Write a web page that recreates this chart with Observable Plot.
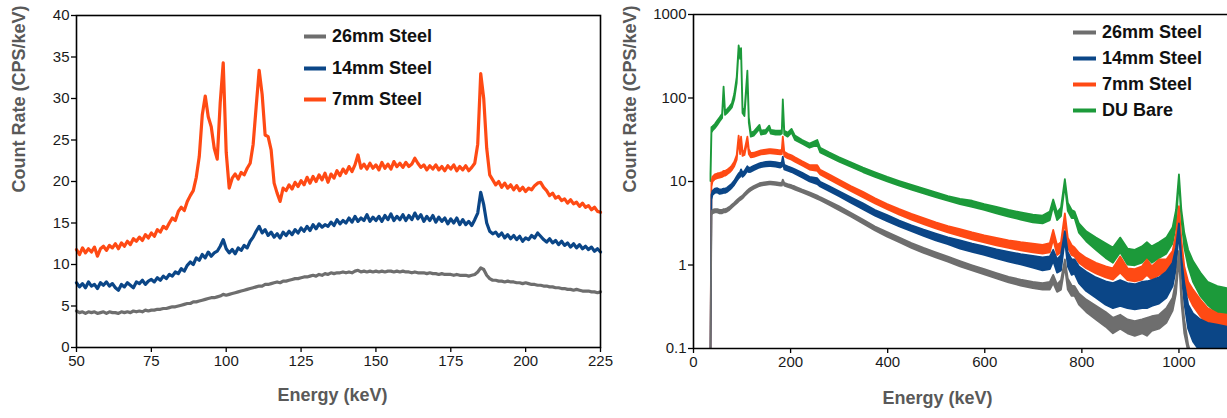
<!DOCTYPE html>
<html><head><meta charset="utf-8">
<script src="https://cdn.jsdelivr.net/npm/d3@7"></script>
<script src="https://cdn.jsdelivr.net/npm/@observablehq/plot@0.6"></script>
<style>
body{margin:0;background:#fff;font-family:"Liberation Sans",Arial,sans-serif;}
#wrap{display:flex;width:1227px;height:418px;position:relative;overflow:hidden;background:#fff}
.panel{position:relative;flex:none}
.lg{position:absolute;display:flex;align-items:center;font-weight:bold;color:#111;font-size:18px;white-space:nowrap;transform:translateY(-50%)}
.lg .sw{display:inline-block;height:4px;margin-right:6px}
</style></head><body>
<div id="wrap"><div id="left" class="panel"></div><div id="right" class="panel"></div></div>
<script>
// ---------- Left panel (linear) ----------
const energyL = d3.range(50, 226); // 1 keV channels, 50..225
const steel7L = [
11.8,11.2,12.0,11.4,11.9,11.5,12.1,11.0,11.9,12.2,
11.7,12.3,12.0,12.5,11.9,12.6,12.2,12.8,12.4,13.1,
12.8,13.3,12.9,13.6,13.2,13.8,13.4,14.2,13.9,14.6,
14.3,15.0,15.6,15.3,16.4,16.9,16.5,17.6,18.3,18.9,
20.5,23.0,28.0,30.3,27.8,26.6,24.0,22.7,29.5,34.3,
23.5,19.2,20.4,20.9,20.3,21.1,20.8,21.6,22.2,24.5,
29.0,33.4,30.5,25.6,25.4,23.8,19.8,18.6,17.6,19.2,
18.9,19.6,19.1,19.9,19.4,20.1,19.6,20.5,19.8,20.6,
20.0,20.8,20.2,21.0,19.9,20.9,20.4,21.3,20.7,21.5,
21.0,21.8,21.2,22.0,23.2,21.6,22.1,21.5,22.2,21.6,
22.0,21.4,22.3,21.6,22.1,21.5,22.4,21.8,22.2,21.7,
22.3,21.8,22.1,22.8,22.2,21.7,22.0,21.4,21.9,21.5,
22.0,21.4,21.8,21.3,21.9,21.5,22.0,21.3,21.8,21.4,
21.9,21.3,21.7,22.2,24.5,33.0,30.0,24.0,20.8,20.2,
19.6,20.0,19.3,19.8,19.2,19.6,19.0,19.5,18.9,19.3,
18.8,19.2,19.0,19.5,19.8,19.9,19.3,18.9,18.3,18.6,
18.0,18.2,17.7,17.9,17.4,17.8,17.3,17.5,17.0,17.4,
16.9,17.1,16.6,16.9,16.4,16.3];
const steel14L = [
7.8,7.3,7.7,7.2,7.9,7.4,7.6,7.1,7.8,7.5,
7.9,7.4,7.7,7.2,6.9,7.6,7.3,7.8,7.5,7.2,
7.9,7.7,8.1,7.6,8.0,8.2,7.9,8.4,8.1,8.6,
8.3,8.8,8.6,9.1,8.9,9.5,9.2,9.9,10.3,10.0,
10.8,10.5,11.2,10.8,11.5,11.0,11.4,11.6,12.2,13.0,
11.9,11.4,11.8,11.3,12.0,11.7,12.3,12.0,12.8,13.3,
14.0,14.6,13.8,14.2,13.5,13.9,13.3,13.7,13.2,13.9,
13.5,14.0,13.6,14.2,13.8,14.4,14.0,14.6,14.1,14.8,
14.3,14.9,14.5,14.8,14.6,15.1,14.7,15.4,14.9,15.3,
15.0,15.6,15.1,15.8,15.2,15.6,15.3,16.0,15.2,15.7,
15.3,15.8,15.2,15.9,15.4,16.1,15.3,15.8,15.4,16.0,
15.3,15.9,15.4,16.2,15.5,16.0,15.2,15.8,15.3,15.9,
15.1,15.7,15.2,15.6,14.9,15.5,15.0,15.6,14.8,15.4,
14.8,15.2,14.7,15.4,16.2,18.7,17.2,15.0,14.0,13.7,
13.9,13.4,13.8,13.2,13.6,13.1,13.5,13.0,13.4,12.8,
13.2,13.0,13.5,13.2,13.8,13.4,13.0,12.7,13.1,12.6,
12.9,12.4,12.8,12.3,12.6,12.1,12.5,12.0,12.4,11.9,
12.2,11.8,12.1,11.6,11.9,11.5];
const steel26L = [
4.4,4.2,4.3,4.1,4.3,4.2,4.3,4.1,4.2,4.3,
4.1,4.3,4.2,4.2,4.1,4.3,4.2,4.3,4.2,4.4,
4.3,4.4,4.3,4.5,4.4,4.5,4.5,4.6,4.6,4.7,
4.7,4.8,4.9,4.9,5.0,5.1,5.2,5.3,5.3,5.5,
5.5,5.6,5.7,5.8,5.9,6.0,6.0,6.1,6.2,6.4,
6.3,6.4,6.5,6.6,6.7,6.8,6.9,7.0,7.1,7.2,
7.3,7.4,7.4,7.6,7.6,7.7,7.8,7.9,7.8,8.0,
8.0,8.1,8.2,8.3,8.3,8.4,8.5,8.5,8.6,8.7,
8.6,8.8,8.7,8.9,8.8,9.0,8.9,9.0,9.0,9.1,
9.0,9.1,9.0,9.2,9.3,9.1,9.2,9.1,9.2,9.1,
9.2,9.1,9.2,9.1,9.2,9.2,9.1,9.2,9.1,9.2,
9.1,9.1,9.0,9.1,9.0,9.0,9.0,8.9,9.0,8.9,
8.9,8.8,8.9,8.8,8.8,8.8,8.7,8.8,8.7,8.7,
8.7,8.6,8.7,8.8,9.1,9.6,9.4,8.7,8.3,8.1,
8.1,8.0,8.0,7.9,8.0,7.9,7.9,7.8,7.8,7.7,
7.8,7.7,7.6,7.6,7.5,7.5,7.4,7.4,7.3,7.3,
7.2,7.2,7.1,7.1,7.0,7.0,6.9,7.0,6.9,6.8,
6.8,6.8,6.7,6.7,6.6,6.7];
const xTicksL = [50, 75, 100, 125, 150, 175, 200, 225];
const yTicksL = [0, 5, 10, 15, 20, 25, 30, 35, 40];

// ---------- Right panel (log) : noise envelope lo/hi per energy ----------
const energyR = [36,38,40,45,50,55,60,63,66,70,75,80,85,90,94,97,99,102,106,112,
115,119,125,137,140,150,157,160,170,180,183,185,188,195,203,210,225,240,256,262,
280,300,325,350,375,400,425,450,475,500,525,550,575,600,625,650,675,700,720,735,
742,750,758,766,772,780,786,795,810,830,850,865,880,895,910,925,935,945,960,975,
988,995,1001,1006,1012,1020,1030,1045,1060,1080,1100];
const s26Lo = [0.08,3.9,4.1,4.2,4.2,4.1,4.1,4.2,4.2,4.3,4.5,4.8,5.1,5.4,5.7,5.9,6.0,6.2,6.6,7.1,
7.4,7.7,8.1,8.7,8.8,9.0,9.1,9.1,9.0,8.8,8.8,9.4,8.8,8.5,8.2,7.9,7.3,6.7,6.1,5.9,
5.2,4.5,3.75,3.1,2.55,2.15,1.85,1.58,1.38,1.22,1.08,0.95,0.85,0.76,0.68,0.61,0.56,0.52,0.5,0.5,
0.6,0.47,0.5,0.95,0.5,0.42,0.42,0.33,0.27,0.22,0.18,0.15,0.17,0.15,0.14,0.15,0.14,0.16,0.17,0.2,
0.28,0.45,1.2,0.35,0.15,0.09,0.06,0.05,0.05,0.05,0.05];
const s26Hi = [0.08,4.3,4.5,4.6,4.6,4.5,4.5,4.6,4.6,4.7,4.9,5.2,5.5,5.9,6.2,6.4,6.5,6.7,7.1,7.7,
8.0,8.3,8.7,9.4,9.5,9.7,9.8,9.8,9.7,9.5,9.6,10.4,9.5,9.2,8.9,8.6,7.9,7.3,6.7,6.4,
5.7,5.0,4.15,3.45,2.85,2.45,2.1,1.8,1.58,1.4,1.24,1.1,0.98,0.88,0.79,0.71,0.66,0.62,0.6,0.62,
0.75,0.58,0.65,1.15,0.68,0.56,0.55,0.45,0.38,0.32,0.27,0.23,0.25,0.22,0.21,0.22,0.23,0.24,0.25,0.3,
0.4,0.65,1.45,0.5,0.22,0.11,0.07,0.06,0.05,0.05,0.05];
const s14Lo = [0.08,6.0,6.8,7.2,7.3,7.0,7.1,7.2,7.2,7.4,7.8,8.3,9.0,10.0,10.8,11.2,12.0,11.2,11.8,13.2,
12.8,12.9,13.5,14.5,14.7,15.0,15.1,15.1,14.9,14.5,14.8,17.0,13.8,13.3,12.8,12.2,11.0,9.9,9.2,8.6,
7.6,6.6,5.5,4.6,3.85,3.3,2.85,2.5,2.2,1.95,1.75,1.55,1.42,1.3,1.18,1.08,1.0,0.92,0.85,0.88,
1.1,0.8,0.85,2.0,0.95,0.75,0.78,0.6,0.48,0.4,0.33,0.3,0.32,0.3,0.29,0.3,0.3,0.32,0.34,0.4,
0.55,0.9,2.6,0.8,0.35,0.17,0.12,0.09,0.08,0.08,0.08];
const s14Hi = [0.08,6.8,7.6,8.1,8.2,7.9,8.0,8.1,8.1,8.3,8.8,9.3,10.1,11.3,12.3,12.8,13.8,12.6,13.2,15.0,
14.4,14.6,15.2,16.3,16.5,16.9,17.0,17.0,16.8,16.4,16.8,19.5,15.6,15.0,14.4,13.8,12.5,11.2,10.8,9.8,
8.7,7.6,6.4,5.4,4.5,3.9,3.35,2.95,2.62,2.35,2.12,1.95,1.78,1.65,1.52,1.42,1.33,1.27,1.22,1.25,
1.5,1.15,1.3,2.5,1.4,1.15,1.15,0.95,0.82,0.7,0.63,0.6,0.65,0.6,0.58,0.62,0.63,0.65,0.7,0.82,
1.05,1.6,3.1,1.2,0.6,0.33,0.26,0.22,0.2,0.19,0.18];
const s7Lo = [0.08,8.5,9.8,10.5,10.8,11.0,11.2,11.5,11.6,12.0,12.6,13.5,15.0,18.0,31,21,31,20,20.5,30,
21,19.2,19.5,20.5,20.8,21.2,21.4,21.4,21.2,20.8,21,30,19.8,18.8,18,17,15.3,13.7,13.2,12.0,
10.5,9.1,7.6,6.4,5.4,4.6,3.95,3.45,3.05,2.7,2.42,2.2,2.0,1.84,1.7,1.58,1.48,1.4,1.35,1.4,
2.0,1.3,1.4,3.4,1.6,1.3,1.25,1.05,0.9,0.78,0.7,0.66,0.8,0.65,0.63,0.66,0.75,0.66,0.75,0.78,
1.0,1.6,4.3,1.5,0.65,0.42,0.32,0.24,0.19,0.17,0.16];
const s7Hi = [0.08,9.8,11.2,12.0,12.3,12.5,12.8,13.2,13.2,13.6,14.3,15.3,17.0,20.5,35,24,34,22.5,23,34,
24,21.5,21.8,23,23.3,23.7,24,24,23.8,23.3,23.8,34,22.3,21.2,20.3,19.2,17.2,15.5,15.5,13.6,
12.0,10.4,8.7,7.4,6.2,5.3,4.6,4.05,3.6,3.2,2.88,2.65,2.42,2.23,2.08,1.95,1.85,1.78,1.72,1.8,
2.6,1.7,1.85,4.1,2.1,1.7,1.6,1.38,1.2,1.05,0.95,0.9,1.25,0.9,0.88,0.95,1.15,0.95,1.15,1.15,
1.45,2.3,5.0,2.0,0.95,0.62,0.5,0.38,0.3,0.26,0.25];
const duLo = [10,38,40,43,47,52,57,120,62,65,70,76,95,150,380,290,350,65,60,185,
50,34,35,42,36,37,42,37,36,36,37,85,36,34,38,31,28,25,27,22,
19.5,17.2,14.8,12.8,11.2,9.9,8.8,7.9,7.1,6.4,5.8,5.3,4.9,4.5,4.1,3.75,3.45,3.2,3.1,3.4,
5.0,3.4,3.8,9.0,4.4,3.6,3.6,2.4,1.9,1.5,1.2,1.05,1.4,1.0,0.98,1.05,1.2,1.05,1.2,1.35,
1.8,3.0,10.5,3.5,1.6,0.95,0.62,0.42,0.33,0.26,0.24];
const duHi = [12,44,45,48,53,58,64,135,68,72,78,85,110,175,420,330,390,75,68,210,
58,38,39,47,40,41,46,41,40,40,41,95,40,38,42,35,31,28,31,25,
22,19.3,16.7,14.5,12.7,11.2,10.0,9.0,8.1,7.3,6.6,6.1,5.8,5.3,4.9,4.5,4.2,3.95,3.85,4.3,
6.0,4.2,4.8,10.5,5.5,4.5,4.3,3.1,2.5,2.1,1.8,1.6,2.1,1.55,1.5,1.65,1.85,1.65,1.85,2.1,
2.8,4.5,12,4.5,2.4,1.5,1.1,0.8,0.62,0.55,0.52];
const xTicksR = [0, 200, 400, 600, 800, 1000];
const yTicksR = [0.1, 1, 10, 100, 1000];

const seriesNames = ["26mm Steel", "14mm Steel", "7mm Steel", "DU Bare"];
const colors = ["#6e6e6e", "#0b4687", "#ff4a14", "#1c9a3a"];

const FONT = "'Liberation Sans', Arial, sans-serif";
const TITLE = "#595959";

// ---------- build left ----------
const rowsL = (vals) => energyL.map((e, i) => ({e, v: vals[i]}));
const lineOpts = (c) => ({x: "e", y: "v", stroke: c, strokeWidth: 3.2, strokeLinejoin: "round"});
const left = Plot.plot({
  width: 615, height: 418,
  marginLeft: 76, marginRight: 15, marginTop: 15, marginBottom: 71,
  style: {fontFamily: FONT, fontSize: "15px", color: "#1a1a1a", background: "#fff", overflow: "visible"},
  x: {domain: [50, 225]},
  y: {domain: [0, 40]},
  marks: [
    Plot.line(rowsL(steel26L), lineOpts(colors[0])),
    Plot.line(rowsL(steel14L), lineOpts(colors[1])),
    Plot.line(rowsL(steel7L), lineOpts(colors[2])),
    Plot.frame({stroke: "#000", strokeWidth: 1.6}),
    Plot.axisX({ticks: xTicksL, tickSize: 5, tickPadding: 3, label: null, stroke: "#000", strokeWidth: 1.3}),
    Plot.axisY({ticks: yTicksL, tickSize: 5, tickPadding: 2, label: null, stroke: "#000", strokeWidth: 1.3}),
    Plot.text(["Energy (keV)"], {frameAnchor: "bottom", dy: 53, dx: -6, text: d => d, fontSize: 18, fontWeight: "bold", fill: TITLE}),
    Plot.text(["Count Rate (CPS/keV)"], {frameAnchor: "left", dx: -57, dy: 11, rotate: -90, text: d => d, fontSize: 18, fontWeight: "bold", fill: TITLE})
  ]
});
document.getElementById("left").append(left);

// ---------- build right ----------
const rowsR = (lo, hi) => energyR.map((e, i) => ({e, lo: lo[i], hi: hi[i]}));
const areaOpts = (c) => ({x: "e", y1: "lo", y2: "hi", fill: c, stroke: c, strokeWidth: 1.8, strokeLinejoin: "round", clip: true});
const right = Plot.plot({
  width: 612, height: 418,
  marginLeft: 78, marginRight: 0, marginTop: 14, marginBottom: 70,
  style: {fontFamily: FONT, fontSize: "15px", color: "#1a1a1a", background: "#fff", overflow: "visible"},
  x: {domain: [0, 1100]},
  y: {type: "log", domain: [0.1, 1000]},
  marks: [
    Plot.areaY(rowsR(duLo, duHi), areaOpts(colors[3])),
    Plot.areaY(rowsR(s7Lo, s7Hi), areaOpts(colors[2])),
    Plot.areaY(rowsR(s14Lo, s14Hi), areaOpts(colors[1])),
    Plot.areaY(rowsR(s26Lo, s26Hi), areaOpts(colors[0])),
    Plot.ruleY([1000], {stroke: "#000", strokeWidth: 1.6}),
    Plot.ruleY([0.1], {stroke: "#000", strokeWidth: 1.6}),
    Plot.ruleX([0], {stroke: "#000", strokeWidth: 1.6}),
    Plot.axisX({ticks: xTicksR, tickFormat: d => String(d), tickSize: 5, tickPadding: 3, label: null, stroke: "#000", strokeWidth: 1.3}),
    Plot.axisY({ticks: yTicksR, tickFormat: d => String(d), tickSize: 5, tickPadding: 2, label: null, stroke: "#000", strokeWidth: 1.3}),
    Plot.text(["Energy (keV)"], {frameAnchor: "bottom", dy: 55, dx: -23, text: d => d, fontSize: 18, fontWeight: "bold", fill: TITLE}),
    Plot.text(["Count Rate (CPS/keV)"], {frameAnchor: "left", dx: -63, dy: 11, rotate: -90, text: d => d, fontSize: 18, fontWeight: "bold", fill: TITLE})
  ]
});
document.getElementById("right").append(right);

// ---------- legends ----------
const wrap = document.getElementById("wrap");
function addLegend(idx, x, ys, swW) {
  idx.forEach((k, j) => {
    const row = document.createElement("div");
    row.className = "lg";
    row.style.left = x + "px";
    row.style.top = ys[j] + "px";
    const sw = document.createElement("span");
    sw.className = "sw";
    sw.style.width = swW + "px";
    sw.style.background = colors[k];
    row.append(sw, document.createTextNode(seriesNames[k]));
    wrap.append(row);
  });
}
addLegend([0, 1, 2], 304, [36, 68, 99], 22);
addLegend([0, 1, 2, 3], 1073, [32, 58, 84, 110], 23);
</script></body></html>
